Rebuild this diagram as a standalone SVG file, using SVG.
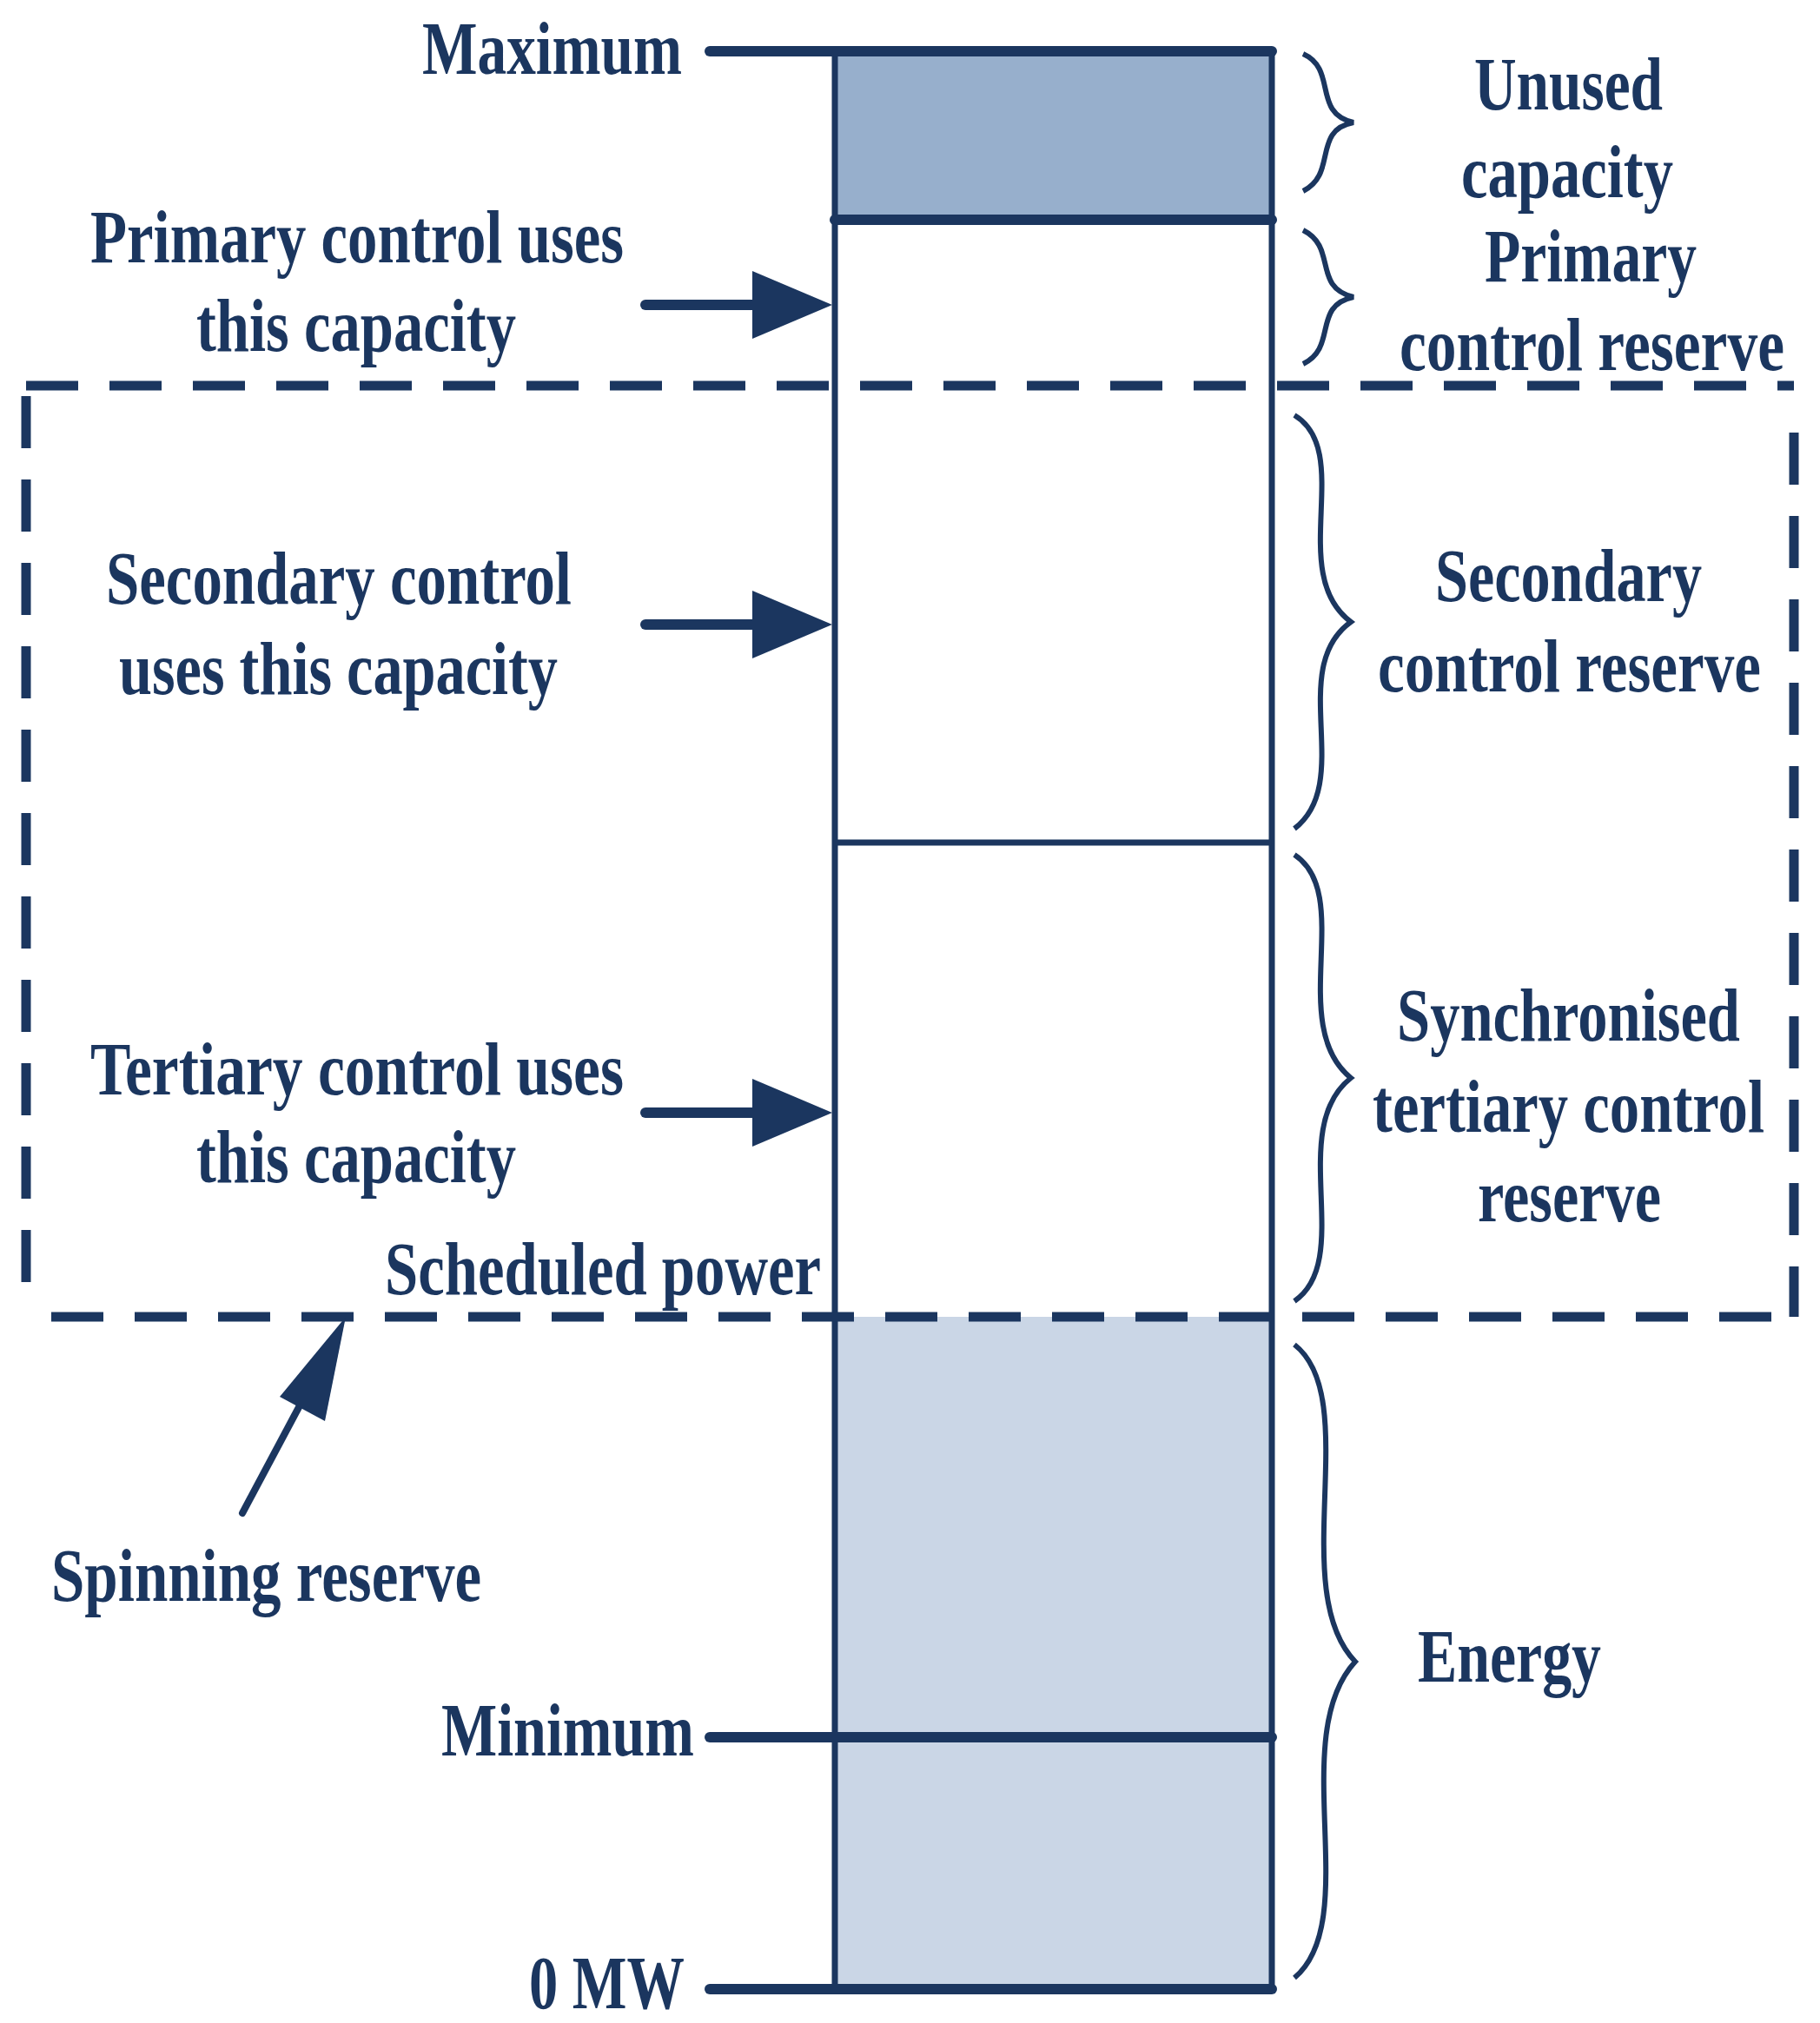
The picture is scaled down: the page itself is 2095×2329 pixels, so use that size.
<svg xmlns="http://www.w3.org/2000/svg" width="2095" height="2329" viewBox="0 0 2095 2329">
<style>
text{font-family:"Liberation Serif","Times New Roman",serif;font-weight:bold;font-size:86px;fill:#1b365f}
.ln{stroke:#1b365f;stroke-width:7;fill:none}
.tk{stroke:#1b365f;stroke-width:12;fill:none;stroke-linecap:round}
.ds{stroke:#1b365f;stroke-width:11;fill:none;stroke-dasharray:60 36}
.br{stroke:#1b365f;stroke-width:6;fill:none}
</style>
<defs><marker id="ah" markerWidth="6" markerHeight="6" refX="5" refY="3" orient="auto" markerUnits="strokeWidth"><path d="M0,0 L5,3 L0,6 z" fill="#1b365f"/></marker></defs>
<g id="bar">
<rect x="961" y="59" width="503" height="194" fill="#97afcc"/>
<rect x="961" y="1516" width="503" height="774" fill="#cad6e6"/>
<rect class="ln" x="961" y="59" width="503" height="2231"/>
<line class="tk" x1="817" y1="59" x2="1464" y2="59"/>
<line class="tk" x1="961" y1="253" x2="1464" y2="253"/>
<line class="ln" x1="961" y1="970" x2="1464" y2="970"/>
<line class="tk" x1="817" y1="2000" x2="1464" y2="2000"/>
<line class="tk" x1="817" y1="2290" x2="1464" y2="2290"/>
</g>
<g id="spinning-box">
<line class="ds" x1="30" y1="444" x2="2065" y2="444"/>
<line class="ds" x1="59" y1="1516" x2="2065" y2="1516"/>
<line class="ds" x1="30" y1="456" x2="30" y2="1493" stroke-dasharray="110 50" stroke-width="8"/>
<line class="ds" x1="2065" y1="498" x2="2065" y2="1516" stroke-dasharray="110 50" stroke-width="8"/>
</g>
<g id="connectors">
<line class="tk" x1="743" y1="351" x2="870" y2="351"/><path d="M866,312 L958,351 L866,390z" fill="#1b365f"/>
<line class="tk" x1="743" y1="719" x2="870" y2="719"/><path d="M866,680 L958,719 L866,758z" fill="#1b365f"/>
<line class="tk" x1="743" y1="1281" x2="870" y2="1281"/><path d="M866,1242 L958,1281 L866,1320z" fill="#1b365f"/>
<line x1="279" y1="1742" x2="360" y2="1590" stroke="#1b365f" stroke-width="8" stroke-linecap="round"/>
<path d="M398,1516 L374,1636 L322,1608z" fill="#1b365f"/>
</g>
<g id="braces">
<path class="br" d="M1500,62 C1540,80 1510,130 1558,141 C1510,150 1540,200 1500,220"/>
<path class="br" d="M1500,265 C1540,285 1510,330 1558,342 C1510,352 1540,400 1500,419"/>
<path class="br" d="M1490,478 C1560,520 1480,660 1555,716 C1480,770 1560,900 1490,954"/>
<path class="br" d="M1490,984 C1560,1030 1480,1180 1555,1241 C1480,1300 1560,1450 1490,1498"/>
<path class="br" d="M1490,1548 C1570,1610 1480,1830 1560,1913 C1480,2000 1570,2210 1490,2277"/>
</g>
<g id="labels">
<text x="486" y="85" textLength="299" lengthAdjust="spacingAndGlyphs">Maximum</text>
<text x="104" y="302" textLength="614" lengthAdjust="spacingAndGlyphs">Primary control uses</text>
<text x="226" y="404" textLength="368" lengthAdjust="spacingAndGlyphs">this capacity</text>
<text x="1697" y="126" textLength="217" lengthAdjust="spacingAndGlyphs">Unused</text>
<text x="1682" y="227" textLength="244" lengthAdjust="spacingAndGlyphs">capacity</text>
<text x="1709" y="324" textLength="244" lengthAdjust="spacingAndGlyphs">Primary</text>
<text x="1611" y="426" textLength="443" lengthAdjust="spacingAndGlyphs">control reserve</text>
<text x="122" y="695" textLength="536" lengthAdjust="spacingAndGlyphs">Secondary control</text>
<text x="137" y="799" textLength="505" lengthAdjust="spacingAndGlyphs">uses this capacity</text>
<text x="1652" y="692" textLength="307" lengthAdjust="spacingAndGlyphs">Secondary</text>
<text x="1586" y="796" textLength="441" lengthAdjust="spacingAndGlyphs">control reserve</text>
<text x="104" y="1260" textLength="614" lengthAdjust="spacingAndGlyphs">Tertiary control uses</text>
<text x="226" y="1361" textLength="368" lengthAdjust="spacingAndGlyphs">this capacity</text>
<text x="1608" y="1198" textLength="395" lengthAdjust="spacingAndGlyphs">Synchronised</text>
<text x="1580" y="1303" textLength="451" lengthAdjust="spacingAndGlyphs">tertiary control</text>
<text x="1701" y="1406" textLength="211" lengthAdjust="spacingAndGlyphs">reserve</text>
<text x="443" y="1490" textLength="502" lengthAdjust="spacingAndGlyphs">Scheduled power</text>
<text x="59" y="1843" textLength="495" lengthAdjust="spacingAndGlyphs">Spinning reserve</text>
<text x="1632" y="1936" textLength="211" lengthAdjust="spacingAndGlyphs">Energy</text>
<text x="508" y="2021" textLength="291" lengthAdjust="spacingAndGlyphs">Minimum</text>
<text x="609" y="2312" textLength="179" lengthAdjust="spacingAndGlyphs">0 MW</text>
</g>
</svg>
